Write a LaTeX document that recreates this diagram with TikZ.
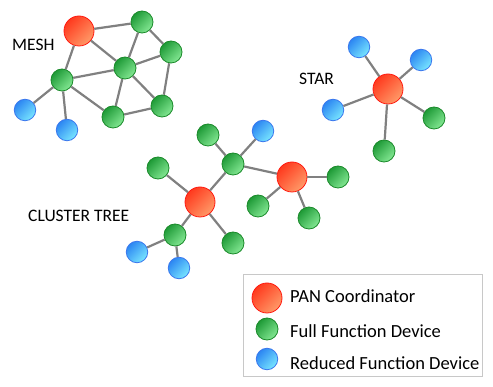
\documentclass[tikz,border=0pt]{standalone}
\usepackage{xcolor}
\usepackage{fontspec}
\setmainfont{Carlito}
\usepackage{tikz}
\usetikzlibrary{positioning}

\definecolor{pandark}{HTML}{FF3A1E}
\definecolor{panlight}{HTML}{FF9A68}
\definecolor{panline}{HTML}{FF1A10}
\definecolor{ffddark}{HTML}{1E9A36}
\definecolor{ffdlight}{HTML}{84E894}
\definecolor{ffdline}{HTML}{1A8A2A}
\definecolor{rfddark}{HTML}{2C86F2}
\definecolor{rfdlight}{HTML}{78E6FF}
\definecolor{rfdline}{HTML}{3A78EE}
\definecolor{linkgray}{HTML}{808080}
\definecolor{boxgray}{HTML}{C8C8C8}

\begin{document}
\begin{tikzpicture}[x=1pt, y=-1pt,
    pan/.style={circle, draw=panline, line width=0.8pt, top color=pandark, bottom color=panlight,
                shading angle=45, minimum size=30pt, inner sep=0pt},
    ffd/.style={circle, draw=ffdline, line width=0.8pt, top color=ffddark, bottom color=ffdlight,
                shading angle=45, minimum size=22pt, inner sep=0pt},
    rfd/.style={circle, draw=rfdline, line width=0.8pt, top color=rfddark, bottom color=rfdlight,
                shading angle=45, minimum size=21.5pt, inner sep=0pt},
    link/.style={draw=linkgray, line width=2.2pt},
    title/.style={anchor=base west, inner sep=0pt, font=\fontsize{17.5}{20}\selectfont},
    legtext/.style={anchor=base west, inner sep=0pt, font=\fontsize{18.5}{22}\selectfont}
]
    \useasboundingbox (0,0) rectangle (493,387);

    % Mesh
    \node[title] (meshlbl) at (12, 51) {MESH};
    \node[pan] (mpan)   at (79, 31)   {};
    \node[ffd] (mtop)   at (142, 22)  {};
    \node[ffd] (mright) at (171, 52)  {};
    \node[ffd] (mmid)   at (125, 68)  {};
    \node[ffd] (mleft)  at (62, 80)   {};
    \node[ffd] (mlow)   at (162, 106) {};
    \node[ffd] (mbot)   at (113, 117) {};
    \node[rfd] (mrfda)  at (25, 110)  {};
    \node[rfd] (mrfdb)  at (67, 130)  {};

    \draw[link] (mpan) -- (mtop);
    \draw[link] (mpan) -- (mmid);
    \draw[link] (mpan) -- (mleft);
    \draw[link] (mtop) -- (mright);
    \draw[link] (mtop) -- (mmid);
    \draw[link] (mright) -- (mmid);
    \draw[link] (mright) -- (mlow);
    \draw[link] (mmid) -- (mleft);
    \draw[link] (mmid) -- (mlow);
    \draw[link] (mmid) -- (mbot);
    \draw[link] (mleft) -- (mbot);
    \draw[link] (mbot) -- (mlow);
    \draw[link] (mleft) -- (mrfda);
    \draw[link] (mleft) -- (mrfdb);

    % Star
    \node[title] (starlbl) at (299, 85) {STAR};
    \node[pan] (span)   at (388, 89)  {};
    \node[rfd] (srfda)  at (359, 47)  {};
    \node[rfd] (srfdb)  at (421, 60)  {};
    \node[rfd] (srfdc)  at (333, 110) {};
    \node[ffd] (sffda)  at (434, 118) {};
    \node[ffd] (sffdb)  at (384, 151) {};

    \draw[link] (span) -- (srfda);
    \draw[link] (span) -- (srfdb);
    \draw[link] (span) -- (srfdc);
    \draw[link] (span) -- (sffda);
    \draw[link] (span) -- (sffdb);

    % Cluster tree
    \node[title] (treelbl) at (28, 222) {CLUSTER TREE};
    \node[pan] (tpan)   at (200, 202) {};
    \node[pan] (tpanb)  at (292, 177) {};
    \node[ffd] (thub)   at (233, 164) {};
    \node[ffd] (thubup) at (208, 135) {};
    \node[rfd] (thubrfd) at (263, 131) {};
    \node[ffd] (tleft)  at (158, 168) {};
    \node[ffd] (tbranch) at (175, 235) {};
    \node[ffd] (tdown)  at (233, 243) {};
    \node[rfd] (trfda)  at (137, 252) {};
    \node[rfd] (trfdb)  at (179, 268) {};
    \node[ffd] (tright) at (338, 177) {};
    \node[ffd] (tsw)    at (258, 206) {};
    \node[ffd] (tse)    at (309, 218) {};

    \draw[link] (tpan) -- (thub);
    \draw[link] (thub) -- (thubup);
    \draw[link] (thub) -- (thubrfd);
    \draw[link] (thub) -- (tpanb);
    \draw[link] (tpan) -- (tleft);
    \draw[link] (tpan) -- (tbranch);
    \draw[link] (tpan) -- (tdown);
    \draw[link] (tbranch) -- (trfda);
    \draw[link] (tbranch) -- (trfdb);
    \draw[link] (tpanb) -- (tright);
    \draw[link] (tpanb) -- (tsw);
    \draw[link] (tpanb) -- (tse);

    % Legend
    \draw[boxgray, line width=0.8pt] (243, 274) rectangle (482, 376);
    \node[pan] (lpan) at (267, 298) {};
    \node[ffd] (lffd) at (267, 329) {};
    \node[rfd] (lrfd) at (267, 359) {};
    \node[legtext] (lpantxt) at (290, 303)   {PAN Coordinator};
    \node[legtext] (lffdtxt) at (290, 337.5) {Full Function Device};
    \node[legtext] (lrfdtxt) at (290, 369.5) {Reduced Function Device};
\end{tikzpicture}
\end{document}
